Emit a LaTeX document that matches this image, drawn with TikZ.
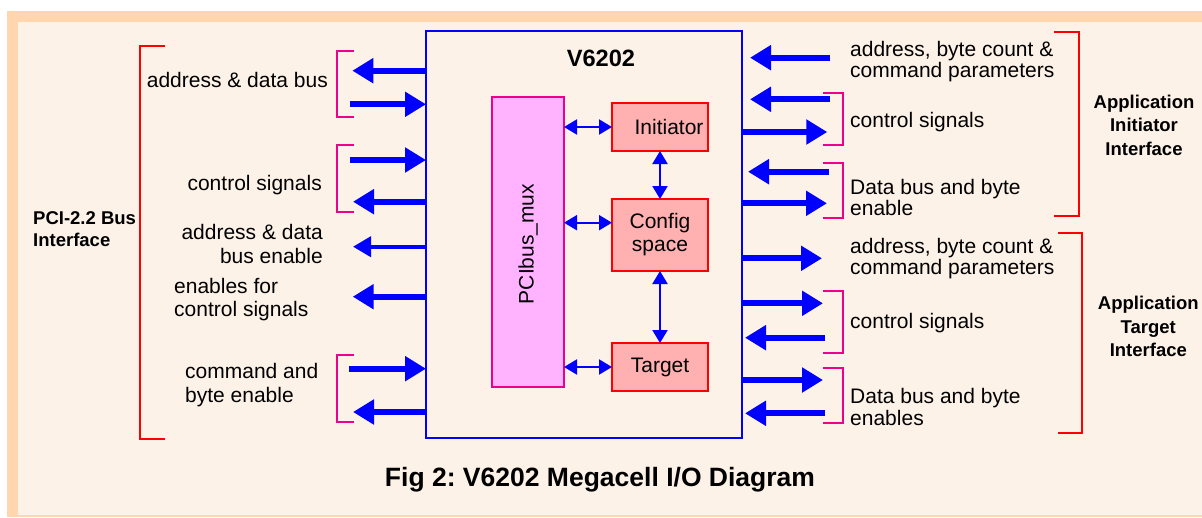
\documentclass[tikz,border=0pt]{standalone}
\usepackage{fontspec}
\setmainfont{Liberation Sans}
\usetikzlibrary{arrows.meta}
\definecolor{peach}{HTML}{FFD6AE}
\definecolor{cream}{HTML}{FDF2E8}
\definecolor{muxfill}{HTML}{FFB3FF}
\definecolor{blkfill}{HTML}{FFB0B0}
\frenchspacing
\begin{document}
\begin{tikzpicture}[x=1pt,y=-1pt,
  lbl/.style={inner sep=0pt, font=\fontsize{21}{23.5}\selectfont},
  lblr/.style={inner sep=0pt, font=\fontsize{21}{21.5}\selectfont},
  hdr/.style={inner sep=0pt, font=\fontsize{18.5}{23.5}\selectfont\bfseries, align=center},
  bigarrow/.style={draw=blue, line width=6pt, -{Triangle[length=21pt,width=24pt]}},
  midarrow/.style={draw=blue, line width=4pt, -{Triangle[length=18pt,width=20pt]}},
  dblarrow/.style={draw=blue, line width=2pt, {Triangle[length=13pt,width=15pt]}-{Triangle[length=13pt,width=15pt]}},
  redbr/.style={draw=red, line width=2pt},
  magbr/.style={draw=magenta, line width=2pt},
  blk/.style={draw=red, line width=2pt, fill=blkfill, minimum width=96pt, inner sep=0pt, outer sep=0pt, font=\fontsize{21}{23}\selectfont, align=center},
]
\useasboundingbox (0,0) rectangle (1202,517);
\fill[white] (0,0) rectangle (1202,517);
\fill[peach] (7,11) rectangle (1202,517);
\fill[cream] (18,22) rectangle (1202,514.5);

% main chip
\node[draw=blue, line width=2pt, minimum width=316pt, minimum height=407pt, inner sep=0pt, outer sep=0pt] (chip) at (584,234.5) {};
\node[inner sep=0pt, anchor=base, font=\fontsize{23.6}{26}\selectfont\bfseries] (title) at (601,66.7) {V6202};

% inner blocks
\node[draw=magenta, line width=2pt, fill=muxfill, minimum width=72pt, minimum height=290pt, inner sep=0pt, outer sep=0pt,
  label={[rotate=90, lbl, yshift=0pt, xshift=-2pt]center:PCIbus\_mux}] (mux) at (528,242) {};
\node[blk, minimum height=48pt] (ini) at (660,127) {\hspace*{18pt}Initiator};
\node[blk, minimum height=72pt] (cfg) at (660,235) {Config\\space};
\node[blk, minimum height=48pt] (tgt) at (660,367) {Target};

\coordinate (cy) at (0,222.7);
\draw[dblarrow] (mux.east |- ini) -- (ini.west);
\draw[dblarrow] (mux.east |- cy) -- (cfg.west |- cy);
\draw[dblarrow] (mux.east |- tgt) -- (tgt.west);
\draw[dblarrow] (ini.south) -- (cfg.north);
\draw[dblarrow] (cfg.south) -- (tgt.north);

% left side arrows
\coordinate (la1) at (352.3,70.7);
\coordinate (la2) at (350,104.3);
\coordinate (la3) at (350,160);
\coordinate (la4) at (353,201.7);
\coordinate (la5) at (353,246.7);
\coordinate (la6) at (352.7,296.7);
\coordinate (la7) at (349,368.7);
\coordinate (la8) at (353,412);
\draw[bigarrow] ([xshift=1pt]chip.west |- la1) -- (la1);
\draw[bigarrow] (la2) -- (chip.west |- la2);
\draw[bigarrow] (la3) -- (chip.west |- la3);
\draw[bigarrow] ([xshift=1pt]chip.west |- la4) -- (la4);
\draw[midarrow] ([xshift=1pt]chip.west |- la5) -- (la5);
\draw[bigarrow] ([xshift=1pt]chip.west |- la6) -- (la6);
\draw[bigarrow] (la7) -- (chip.west |- la7);
\draw[bigarrow] ([xshift=1pt]chip.west |- la8) -- (la8);

% right side arrows
\coordinate (ra1) at (830,57.7);
\coordinate (ra2) at (830,99.3);
\coordinate (ra3) at (827.3,132);
\coordinate (ra4) at (829,171.7);
\coordinate (ra5) at (827,203.3);
\coordinate (ra6) at (822,258.3);
\coordinate (ra7) at (823,303.3);
\coordinate (ra8) at (825,337.7);
\coordinate (ra9) at (823,380);
\coordinate (ra10) at (825,413.3);
\draw[bigarrow] (ra1) -- ([xshift=8pt]chip.east |- ra1);
\draw[bigarrow] (ra2) -- ([xshift=8pt]chip.east |- ra2);
\draw[bigarrow] (chip.east |- ra3) -- (ra3);
\draw[bigarrow] (ra4) -- ([xshift=6pt]chip.east |- ra4);
\draw[bigarrow] (chip.east |- ra5) -- (ra5);
\draw[bigarrow] (chip.east |- ra6) -- (ra6);
\draw[bigarrow] (chip.east |- ra7) -- (ra7);
\draw[bigarrow] (ra8) -- ([xshift=3pt]chip.east |- ra8);
\draw[bigarrow] (chip.east |- ra9) -- (ra9);
\draw[bigarrow] (ra10) -- ([xshift=3pt]chip.east |- ra10);

% brackets left
\draw[magbr] (354.3,50.7) -- (336.7,50.7) -- (336.7,117) -- (354.3,117);
\draw[magbr] (354.3,145) -- (336.7,145) -- (336.7,211.7) -- (354.3,211.7);
\draw[magbr] (354.3,355.3) -- (336.7,355.3) -- (336.7,422) -- (354.3,422);
\draw[redbr] (164.7,45.7) -- (140,45.7) -- (140,438.7) -- (164.7,438.7);
% brackets right
\draw[magbr] (823.3,92.7) -- (842.7,92.7) -- (842.7,145) -- (823.3,145);
\draw[magbr] (823.3,162.7) -- (842.7,162.7) -- (842.7,217.7) -- (823.3,217.7);
\draw[magbr] (823.3,290.7) -- (842.7,290.7) -- (842.7,352.7) -- (823.3,352.7);
\draw[magbr] (823.3,367.7) -- (842.7,367.7) -- (842.7,422.7) -- (823.3,422.7);
\draw[redbr] (1054.3,31.7) -- (1079,31.7) -- (1079,215.7) -- (1054.3,215.7);
\draw[redbr] (1058.3,232.7) -- (1082.3,232.7) -- (1082.3,433.3) -- (1058.3,433.3);

% left labels (multi-line nodes: base = last line's baseline)
\node[lbl, anchor=base east] (tl1) at (328,87.5) {address \& data bus};
\node[lbl, anchor=base east] (tl2) at (322,190) {control signals};
\node[lbl, anchor=base east, align=right] (tl3) at (323,263) {address \& data\\bus enable};
\node[lbl, anchor=base west, align=left] (tl4) at (174,316.7) {enables for\\control signals};
\node[lbl, anchor=base west, align=left] (tl5) at (185,402.3) {command and\\byte enable};
\node[hdr, anchor=base west, align=left, font=\fontsize{18.5}{22}\selectfont\bfseries] (pci) at (33,246.7) {PCI-2.2 Bus\\Interface};

% right labels
\node[lblr, anchor=base west, align=left] (tr1) at (850,77.5) {address, byte count \&\\command parameters};
\node[lblr, anchor=base west] (tr2) at (850,127.3) {control signals};
\node[lblr, anchor=base west, align=left] (tr3) at (850,215.5) {Data bus and byte\\enable};
\node[lblr, anchor=base west, align=left] (tr4) at (850,274.5) {address, byte count \&\\command parameters};
\node[lblr, anchor=base west] (tr5) at (850,328.3) {control signals};
\node[lblr, anchor=base west, align=left] (tr6) at (850,425) {Data bus and byte\\enables};
\node[hdr, anchor=base] (aii) at (1144,155) {Application\\Initiator\\Interface};
\node[hdr, anchor=base] (ati) at (1148.3,356.7) {Application\\Target\\Interface};

% caption
\node[inner sep=0pt, anchor=base, font=\fontsize{26.5}{30}\selectfont\bfseries] (cap) at (600,486.7) {Fig 2: V6202 Megacell I/O Diagram};
\end{tikzpicture}
\end{document}
